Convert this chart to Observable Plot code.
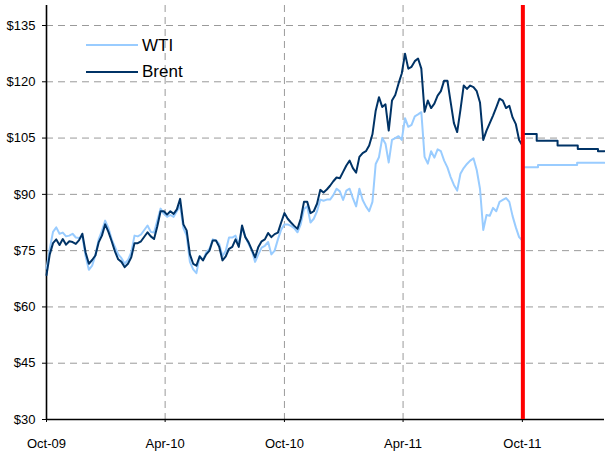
<!DOCTYPE html>
<html><head><meta charset="utf-8">
<script src="https://cdn.jsdelivr.net/npm/d3@7"></script>
<script src="https://cdn.jsdelivr.net/npm/@observablehq/plot@0.6"></script>
<style>
body{margin:0;background:#fff;}
#wrap{position:relative;width:605px;height:454px;font-family:"Liberation Sans",Arial,sans-serif;}
.leg{position:absolute;font-size:17px;line-height:17px;color:#000;white-space:nowrap;}
.sw{position:absolute;height:2px;width:52px;}
</style></head>
<body><div id="wrap"></div>
<script>
// ---- data (US$ per barrel), one reading every 5 days from 1 Oct 2009 ----
const histStart = "2009-10-01";
const histStepDays = 5;
const brent = [68.5,74.0,77.0,78.0,76.5,78.1,76.6,77.5,77.3,76.8,77.8,79.5,74.5,71.5,72.5,73.7,77.2,79.0,82.0,80.0,
77.5,74.8,72.7,72.0,70.6,71.5,73.2,77.0,77.0,77.5,78.7,79.9,78.8,78.1,81.5,85.5,85.5,84.6,85.5,84.8,
86.0,88.8,82.0,80.4,74.0,71.5,71.0,73.5,72.4,74.0,75.0,77.7,77.7,76.0,72.4,73.5,75.5,76.0,78.0,76.0,
81.7,78.6,77.2,75.2,73.2,76.0,77.5,78.0,79.7,78.6,79.4,79.8,82.5,85.0,83.5,82.5,81.6,80.8,83.5,88.0,
88.0,85.0,85.5,87.5,91.2,90.5,91.3,92.3,93.5,94.5,94.3,96.0,97.7,99.0,97.0,95.8,100.0,101.0,101.5,103.0,
106.0,112.3,115.9,113.3,114.0,107.0,115.0,116.5,119.5,122.2,127.5,123.5,124.0,125.5,126.2,123.5,112.0,115.0,113.0,114.2,
116.3,117.5,120.3,120.3,114.6,109.0,106.6,112.5,119.0,118.1,119.0,118.6,117.5,114.5,104.5,107.0,109.0,111.0,113.2,115.5,
115.0,113.0,113.6,110.5,108.7,104.5,103.0];
const wti = [70.2,75.5,80.0,81.2,79.5,79.8,78.8,79.0,79.5,78.5,78.4,78.8,73.5,69.9,71.0,73.8,78.0,80.3,83.0,81.0,
78.0,76.0,74.0,73.0,71.5,72.5,74.5,79.0,78.8,79.3,80.5,81.7,80.0,79.8,83.0,86.2,84.8,84.0,84.5,84.0,
85.5,87.0,81.0,79.0,72.0,70.0,69.0,73.5,72.5,74.5,75.5,78.0,77.7,76.8,73.5,75.0,78.5,78.5,79.0,76.5,
81.0,78.7,76.8,75.0,72.0,74.0,75.8,76.3,77.3,74.0,75.0,78.0,80.6,82.0,82.0,81.6,81.0,79.9,82.0,86.1,
86.8,82.5,83.5,85.5,88.6,88.3,88.6,88.6,89.8,91.5,90.8,88.5,91.0,91.5,89.0,86.8,91.5,88.5,86.8,85.5,
88.0,98.1,99.9,105.0,103.5,98.5,104.5,105.0,105.5,104.5,110.3,108.0,108.5,110.8,111.3,111.9,100.0,98.2,101.5,99.8,
102.0,101.5,99.0,97.2,94.6,92.5,91.0,95.5,97.0,98.1,99.0,99.6,96.5,91.5,80.5,84.5,84.3,86.4,85.5,88.0,
88.5,89.0,88.0,84.2,81.2,78.6,77.7];

// futures curve (step per contract)
const brentFutDates = ["2011-10-03","2011-10-23","2011-11-24","2011-12-25","2012-01-25","2012-02-04"];
const brentFutValues = [106.1,104.3,103.0,102.1,101.5,101.5];
const wtiFutDates = ["2011-10-03","2011-10-25","2011-12-24","2012-02-04"];
const wtiFutValues = [97.2,97.8,98.4,98.4];

const todayDate = "2011-10-01";
const xDomain = ["2009-10-01","2012-02-04"];
const xTickDates = ["2009-10-01","2010-04-01","2010-10-01","2011-04-01","2011-10-01"];
const yTicks = [30,45,60,75,90,105,120,135];
const yDomain = [30, 140.33];
const seriesNames = ["WTI","Brent"];
const colors = {WTI:"#99CCFF", Brent:"#003366"};

// ---- build tables ----
const D = s => new Date(s + "T00:00:00Z");
const t0 = D(histStart);
const hist = [];
brent.forEach((v,i)=>hist.push({date:d3.utcDay.offset(t0,i*histStepDays), value:v, series:"Brent"}));
wti.forEach((v,i)=>hist.push({date:d3.utcDay.offset(t0,i*histStepDays), value:v, series:"WTI"}));
const fut = [];
brentFutDates.forEach((d,i)=>fut.push({date:D(d), value:brentFutValues[i], series:"Brent"}));
wtiFutDates.forEach((d,i)=>fut.push({date:D(d), value:wtiFutValues[i], series:"WTI"}));
const xt = xTickDates.map(D);
const grid = {stroke:"#9a9a9a", strokeOpacity:1, strokeWidth:1, strokeDasharray:"7,5"};

const chart = Plot.plot({
  width:605, height:454,
  marginLeft:46, marginRight:1, marginTop:5, marginBottom:35,
  style:{fontFamily:"'Liberation Sans', Arial, sans-serif", fontSize:"13px", color:"#000", background:"#fff", overflow:"visible"},
  x:{type:"utc", domain:xDomain.map(D)},
  y:{domain:yDomain},
  marks:[
    Plot.gridY(yTicks.filter(v=>v>yDomain[0]), grid),
    Plot.gridX(xt.slice(1), grid),
    Plot.axisY(yTicks, {tickSize:4, tickPadding:7, tickFormat:d=>"$"+d, label:null, stroke:"#000", fontSize:13}),
    Plot.axisX(xt, {tickSize:3, tickPadding:16, tickFormat:d3.utcFormat("%b-%y"), label:null, stroke:"#000", fontSize:13, style:"letter-spacing:1px"}),
    Plot.ruleX([D(xDomain[0])], {stroke:"#000", strokeWidth:1.6}),
    Plot.ruleY([yDomain[0]], {stroke:"#000", strokeWidth:1.6}),
    Plot.line(hist.filter(d=>d.series==="WTI"), {x:"date", y:"value", stroke:colors.WTI, strokeWidth:2}),
    Plot.line(fut.filter(d=>d.series==="WTI"), {x:"date", y:"value", stroke:colors.WTI, strokeWidth:2, curve:"step-after"}),
    Plot.line(hist.filter(d=>d.series==="Brent"), {x:"date", y:"value", stroke:colors.Brent, strokeWidth:2}),
    Plot.line(fut.filter(d=>d.series==="Brent"), {x:"date", y:"value", stroke:colors.Brent, strokeWidth:2, curve:"step-after"}),
    Plot.ruleX([D(todayDate)], {stroke:"#ff0000", strokeWidth:4, dx:0.5})
  ]
});
const wrap = document.getElementById("wrap");
wrap.appendChild(chart);

// legend (inside plot area, top-left)
const legPos = [{top:36.6, line:44}, {top:62.6, line:71}];
seriesNames.forEach((name,i)=>{
  const sw = document.createElement("div");
  sw.className = "sw";
  sw.style.left = "86px"; sw.style.top = legPos[i].line + "px";
  sw.style.background = colors[name];
  wrap.appendChild(sw);
  const t = document.createElement("div");
  t.className = "leg";
  t.style.left = "142px"; t.style.top = legPos[i].top + "px";
  t.textContent = name;
  wrap.appendChild(t);
});
</script></body></html>
